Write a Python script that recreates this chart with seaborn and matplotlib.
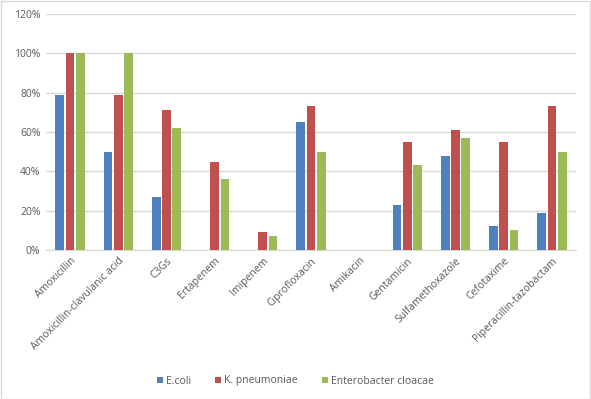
import pandas as pd
import seaborn as sns
import matplotlib.pyplot as plt
from matplotlib.ticker import PercentFormatter

antibiotics = ['Amoxicillin', 'Amoxicillin-clavulanic acid', 'C3Gs', 'Ertapenem', 'Imipenem',
               'Ciprofloxacin', 'Amikacin', 'Gentamicin', 'Sulfamethoxazole', 'Cefotaxime',
               'Piperacillin-tazobactam']
species = ['E.coli', 'K. pneumoniae', 'Enterobacter cloacae']
ecoli = [79, 50, 27, 0, 0, 65, 0, 23, 48, 12, 19]
kpneu = [100, 79, 71, 45, 9, 73, 0, 55, 61, 55, 73]
ecloacae = [100, 100, 62, 36, 7, 50, 0, 43, 57, 10, 50]
colors = ['#4F81BD', '#C0504D', '#9BBB59']


def build_frame():
    rows = []
    for sp, vals in zip(species, [ecoli, kpneu, ecloacae]):
        for ab, v in zip(antibiotics, vals):
            rows.append({'antibiotic': ab, 'species': sp, 'value': v})
    return pd.DataFrame(rows)


def main():
    df = build_frame()
    sns.set_style('white')
    plt.rcParams['font.family'] = ['Open Sans', 'DejaVu Sans']

    fig = plt.figure(figsize=(5.91, 3.99), dpi=100)
    ax = fig.add_axes([46 / 591, 1 - 250 / 399, 530 / 591, 236 / 399])

    sns.barplot(data=df, x='antibiotic', y='value', hue='species', order=antibiotics,
                hue_order=species, palette=colors, width=0.64, gap=0.15, ax=ax,
                saturation=1, errorbar=None, zorder=3, linewidth=0)

    ax.set_ylim(0, 120)
    ax.set_yticks(range(0, 121, 20))
    ax.yaxis.set_major_formatter(PercentFormatter(decimals=0))
    ax.grid(axis='y', color='#D9D9D9', linewidth=1, zorder=0)
    ax.set_xlim(-0.5, len(antibiotics) - 0.5)
    ax.set_xlabel('')
    ax.set_ylabel('')
    for s in ['top', 'right', 'left']:
        ax.spines[s].set_visible(False)
    ax.spines['bottom'].set_color('#D9D9D9')
    ax.tick_params(axis='both', length=0, labelsize=7.5, colors='#595959', pad=4)
    plt.setp(ax.get_xticklabels(), rotation=45, ha='right', rotation_mode='anchor')

    handles, labels = ax.get_legend_handles_labels()
    ax.legend_.remove()
    fig.legend(handles, labels, loc='center', bbox_to_anchor=(0.5, 1 - 381 / 399), ncol=3,
               frameon=False, fontsize=7.5, labelcolor='#595959', handlelength=0.6,
               handleheight=0.6, handletextpad=0.3, columnspacing=2.3)

    fig.patches.append(plt.Rectangle((0.001, 0.001), 0.997, 0.997, transform=fig.transFigure,
                                     fill=False, edgecolor='#D9D9D9', linewidth=1))
    fig.savefig('out.png', dpi=100)


if __name__ == "__main__":
    main()
